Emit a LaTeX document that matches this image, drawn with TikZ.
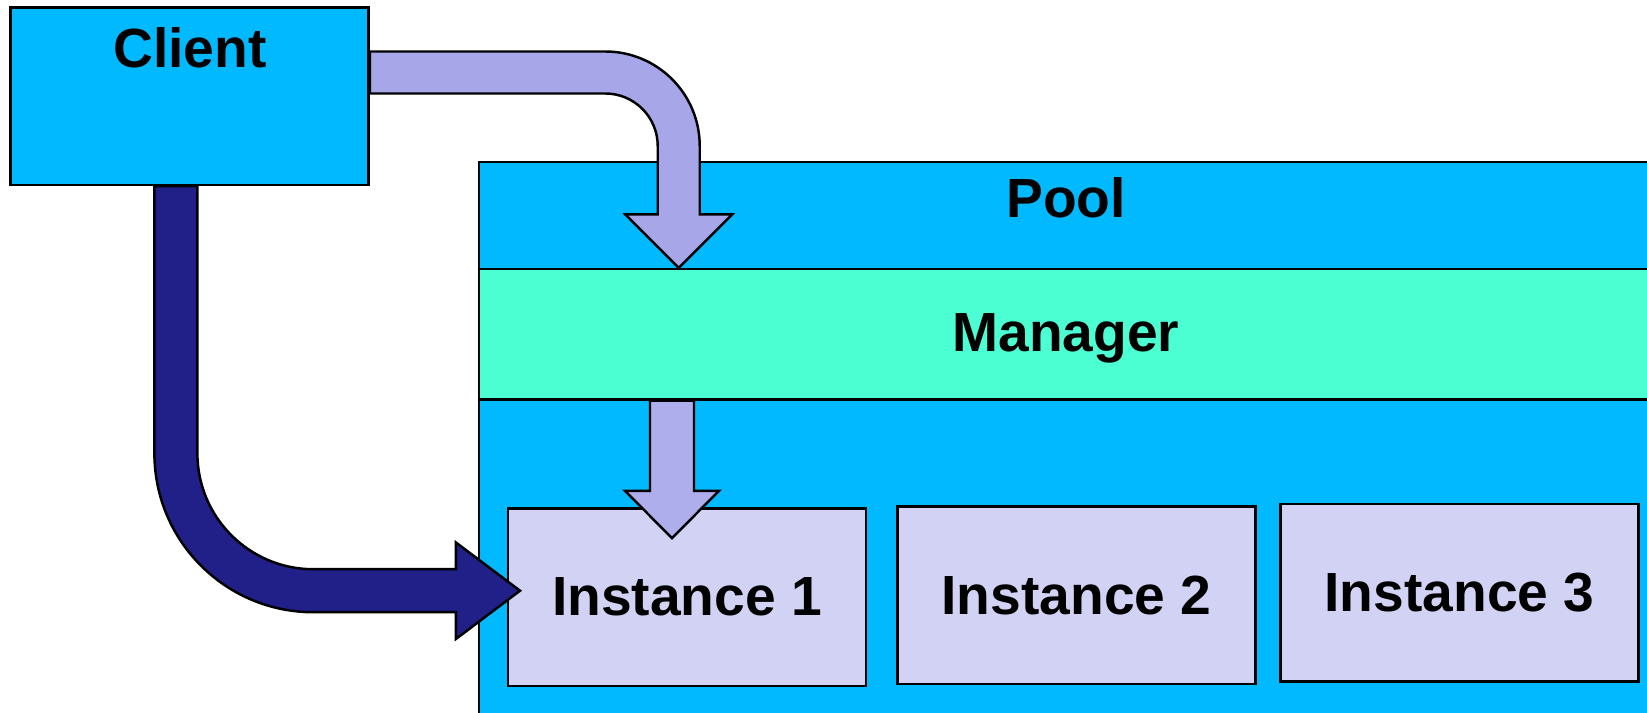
\documentclass[tikz,border=0pt]{standalone}
\usepackage{fontspec}
\setmainfont{Liberation Sans}
\usetikzlibrary{positioning}

\definecolor{poolblue}{RGB}{0,185,255}
\definecolor{mgrgreen}{RGB}{76,255,210}
\definecolor{instfill}{RGB}{210,210,244}
\definecolor{reqlav}{RGB}{166,166,232}
\definecolor{droplav}{RGB}{174,174,236}
\definecolor{usenavy}{RGB}{32,32,136}

\tikzset{
  blockbox/.style={draw=black, line width=0.7pt, inner sep=0pt},
  txt/.style={font=\fontsize{15.7}{19}\selectfont\bfseries, inner sep=0pt},
  blockarrow/.style={draw=black, line width=0.7pt, line join=miter}
}

\begin{document}
\begin{tikzpicture}
		\path[use as bounding box, clip] (0,0) rectangle (16.47,7.13);

		\node[blockbox, fill=poolblue, anchor=north west, minimum width=12cm, minimum height=6cm] (pool) at (4.78,5.523) {};
		\node[txt] (pooltxt) at (10.66,5.15) {Pool};
		\node[blockbox, fill=mgrgreen, anchor=north west, minimum width=11.8cm, minimum height=1.302cm] (mgr) at (4.78,4.451) {};
		\node[txt] (mgrtxt) at (10.66,3.75) {Manager};

		\node[blockbox, fill=instfill, minimum width=3.58cm, minimum height=1.775cm, txt] (inst1) at (6.87,1.1585) {Instance 1};
		\node[blockbox, fill=instfill, minimum width=3.58cm, minimum height=1.775cm, txt] (inst2) at (10.765,1.1795) {Instance 2};
		\node[blockbox, fill=instfill, minimum width=3.58cm, minimum height=1.775cm, txt] (inst3) at (14.595,1.2005) {Instance 3};

		\node[blockbox, fill=poolblue, minimum width=3.582cm, minimum height=1.775cm] (client) at (1.896,6.1685) {};
		\node[txt] (clienttxt) at (1.90,6.657) {Client};

		% client -> manager
		\draw[blockarrow, fill=reqlav] ([yshift=0.4465cm]client.east) -- ++(2.353,0)
			arc[start angle=90, end angle=0, radius=0.945] -- ++(0,-0.683) -- ++(0.325,0)
			-- ++(-0.535,-0.536) -- ++(-0.535,0.536) -- ++(0.325,0) -- ++(0,0.683)
			arc[start angle=0, end angle=90, radius=0.525] -- ++(-2.353,0) -- cycle;

		% manager -> instance 1
		\coordinate (drop) at (mgr.south -| inst1.north);
		\draw[blockarrow, fill=droplav] ([xshift=-0.37cm]drop) -- ++(0,-0.903) -- ++(-0.25,0)
			-- ++(0.47,-0.473) -- ++(0.47,0.473) -- ++(-0.25,0) -- ++(0,0.903) -- cycle;

		% client -> instance 1
		\draw[blockarrow, fill=usenavy] ([xshift=-0.352cm]client.south) -- ++(0,-2.671)
			arc[start angle=180, end angle=270, radius=1.59] -- ++(1.425,0) -- ++(0,-0.268)
			-- ++(0.641,0.483) -- ++(-0.641,0.483) -- ++(0,-0.268) -- ++(-1.425,0)
			arc[start angle=270, end angle=180, radius=1.16] -- ++(0,2.671) -- cycle;
	\end{tikzpicture}
\end{document}
